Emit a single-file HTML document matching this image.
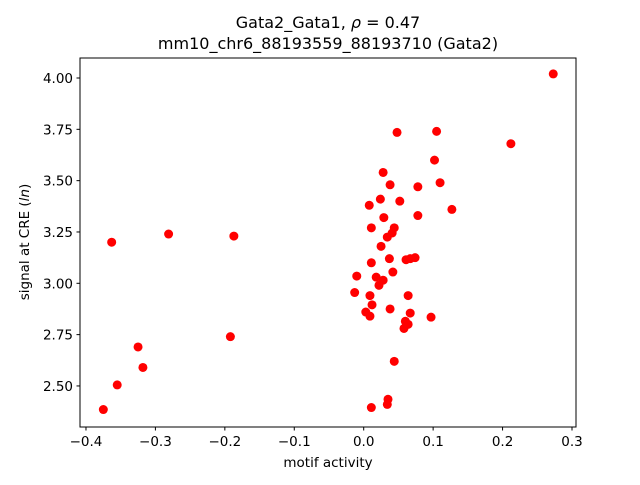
<!DOCTYPE html>
<html><head><meta charset="utf-8"><style>
body{margin:0;background:#fff}
svg text{font-family:"DejaVu Sans","Liberation Sans",sans-serif;fill:#000}
</style></head><body>
<svg id="chart" width="640" height="480" xmlns="http://www.w3.org/2000/svg">
<text x="328" y="28" font-size="16" text-anchor="middle">Gata2_Gata1, <tspan font-style="italic">ρ</tspan> = 0.47</text>
<text x="328" y="49" font-size="16" text-anchor="middle">mm10_chr6_88193559_88193710 (Gata2)</text>
<g id="plot"></g>
<rect x="80" y="58" width="496" height="369" fill="none" stroke="#000" stroke-width="1"/>
<text x="328" y="467" font-size="13.5" text-anchor="middle">motif activity</text>
<text transform="translate(29,242) rotate(-90)" font-size="13.5" text-anchor="middle">signal at CRE (<tspan font-style="italic">ln</tspan>)</text>
</svg>
<script>
const xVals=[0.273,0.212,0.105,0.048,0.102,0.110,0.028,0.078,0.038,0.127,0.024,0.008,0.052,0.029,0.078,0.044,0.011,0.041,0.034,0.025,-0.281,-0.363,-0.187,0.037,0.074,0.067,0.061,0.011,0.042,-0.010,0.018,0.028,0.022,-0.013,0.009,0.064,0.012,0.038,0.003,0.009,0.067,0.097,0.060,0.064,0.058,-0.192,0.044,-0.325,-0.318,-0.355,-0.375,0.035,0.034,0.011];
const yVals=[4.02,3.68,3.74,3.735,3.60,3.49,3.54,3.47,3.48,3.36,3.41,3.38,3.40,3.32,3.33,3.27,3.27,3.245,3.225,3.18,3.24,3.20,3.23,3.12,3.125,3.12,3.115,3.10,3.055,3.035,3.03,3.015,2.99,2.955,2.94,2.94,2.895,2.875,2.86,2.84,2.855,2.835,2.815,2.80,2.78,2.74,2.62,2.69,2.59,2.505,2.385,2.435,2.41,2.395];
const xTicks=[-0.4,-0.3,-0.2,-0.1,0.0,0.1,0.2,0.3];
const yTicks=[2.50,2.75,3.00,3.25,3.50,3.75,4.00];
const sx=v=>363.7+v*694.3;
const sy=v=>78+(4-v)*205.3;
const NS="http://www.w3.org/2000/svg";
const g=document.getElementById('plot');
function mk(t,a){const e=document.createElementNS(NS,t);for(const k in a)e.setAttribute(k,a[k]);g.appendChild(e);return e;}
xVals.forEach((x,i)=>{const c=mk('circle',{cx:sx(x),cy:sy(yVals[i]),r:4.5,fill:'#ff0000'});

});
xTicks.forEach(t=>{const x=sx(t);
const l=mk('line',{x1:x,x2:x,y1:427,y2:430.5,stroke:'#000'});


const tx=mk('text',{x:x,y:446,'font-size':13.5,'text-anchor':'middle'});
tx.textContent=(t<0?'\u2212':'')+Math.abs(t).toFixed(1);

});
yTicks.forEach(t=>{const y=sy(t);
const l=mk('line',{x1:76.5,x2:80,y1:y,y2:y,stroke:'#000'});


const tx=mk('text',{x:73,y:y+5,'font-size':13.5,'text-anchor':'end'});
tx.textContent=t.toFixed(2);

});
</script>
</body></html>
